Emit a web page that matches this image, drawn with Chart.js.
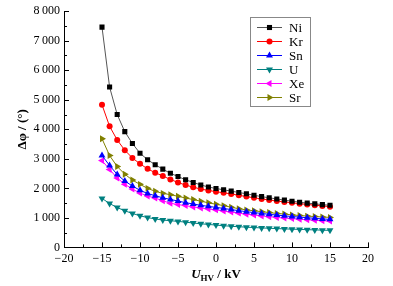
<!DOCTYPE html>
<html>
<head>
<meta charset="utf-8">
<script src="https://cdn.jsdelivr.net/npm/chart.js@4"></script>
<style>
  html, body { margin: 0; padding: 0; background: #fff; }
  #wrap { width: 393px; height: 286px; }
</style>
</head>
<body>
<div id="wrap"><canvas id="myChart" width="393" height="286"></canvas></div>
<script>
// voltage U_HV in kV
const voltages = [-15, -14, -13, -12, -11, -10, -9, -8, -7, -6, -5, -4, -3, -2, -1, 0,
                  1, 2, 3, 4, 5, 6, 7, 8, 9, 10, 11, 12, 13, 14, 15];

// phase shift in degrees
const ni = [7460, 5430, 4500, 3920, 3520, 3190, 2970, 2800, 2650, 2510, 2400, 2290, 2200, 2115, 2045, 1995,
            1950, 1905, 1860, 1815, 1765, 1720, 1680, 1640, 1600, 1565, 1530, 1500, 1475, 1450, 1425];
const kr = [4830, 4100, 3640, 3290, 3030, 2830, 2660, 2530, 2420, 2300, 2200, 2110, 2040, 1975, 1930, 1885,
            1850, 1810, 1765, 1720, 1680, 1640, 1605, 1570, 1540, 1510, 1480, 1455, 1430, 1405, 1380];
const sn = [3110, 2775, 2470, 2245, 2080, 1935, 1825, 1750, 1680, 1625, 1570, 1515, 1470, 1425, 1390, 1355,
            1320, 1280, 1245, 1210, 1180, 1150, 1120, 1095, 1070, 1045, 1025, 1005, 985, 965, 950];
const u  = [1660, 1485, 1350, 1240, 1150, 1070, 1010, 965, 925, 905, 880, 855, 825, 800, 778, 755,
            735, 715, 700, 685, 672, 660, 648, 637, 627, 618, 609, 600, 592, 584, 577];
const xe = [2940, 2640, 2350, 2140, 1975, 1840, 1740, 1670, 1580, 1495, 1450, 1415, 1370, 1335, 1300, 1270,
            1230, 1195, 1160, 1125, 1095, 1065, 1040, 1015, 995, 975, 955, 935, 920, 905, 890];
const sr = [3680, 3110, 2740, 2480, 2280, 2135, 2000, 1900, 1830, 1785, 1730, 1673, 1620, 1565, 1510, 1460,
            1415, 1360, 1310, 1270, 1240, 1210, 1180, 1150, 1130, 1100, 1080, 1060, 1045, 1030, 1015];

const labels = ['Ni', 'Kr', 'Sn', 'U', 'Xe', 'Sr'];
const xTicks = [-20, -15, -10, -5, 0, 5, 10, 15, 20];
const yTicks = [0, 1000, 2000, 3000, 4000, 5000, 6000, 7000, 8000];

const serif = '"Liberation Serif", "DejaVu Serif", serif';

function series(label, data, color, lineColor, style, rot, r) {
  return {
    label: label,
    data: voltages.map((v, i) => ({ x: v, y: data[i] })),
    borderColor: lineColor,
    backgroundColor: color,
    pointBorderColor: color,
    pointBackgroundColor: color,
    borderWidth: 1,
    pointStyle: style,
    pointRotation: rot,
    pointRadius: r,
    pointBorderWidth: 0,
    tension: 0,
    fill: false
  };
}

// inward ticks, minor ticks and axis titles
const axisDecor = {
  id: 'axisDecor',
  afterDraw(chart) {
    const ctx = chart.ctx;
    const xs = chart.scales.x, ys = chart.scales.y;
    const a = chart.chartArea;
    ctx.save();
    ctx.strokeStyle = '#000';
    ctx.lineWidth = 1;
    ctx.beginPath();
    for (let v = -20; v <= 20; v += 2.5) {
      const px = Math.round(xs.getPixelForValue(v)) + 0.5;
      const len = (v % 5 === 0) ? 5 : 3;
      ctx.moveTo(px, a.bottom);
      ctx.lineTo(px, a.bottom - len);
    }
    for (let v = 0; v <= 8000; v += 500) {
      const py = Math.round(ys.getPixelForValue(v)) + 0.5;
      const len = (v % 1000 === 0) ? 5 : 3;
      ctx.moveTo(a.left, py);
      ctx.lineTo(a.left + len, py);
    }
    ctx.stroke();

    // x title: U_HV / kV
    ctx.fillStyle = '#000';
    ctx.textBaseline = 'alphabetic';
    const cx = (a.left + a.right) / 2;
    const by = 278;
    ctx.font = 'italic bold 13px ' + serif;
    const wU = ctx.measureText('U').width;
    ctx.font = 'bold 9px ' + serif;
    const wHV = ctx.measureText('HV').width;
    ctx.font = 'bold 13px ' + serif;
    const wRest = ctx.measureText(' / kV').width;
    let x0 = cx - (wU + wHV + wRest) / 2;
    ctx.textAlign = 'left';
    ctx.font = 'italic bold 13px ' + serif;
    ctx.fillText('U', x0, by);
    ctx.font = 'bold 9px ' + serif;
    ctx.fillText('HV', x0 + wU, by + 3);
    ctx.font = 'bold 13px ' + serif;
    ctx.fillText(' / kV', x0 + wU + wHV, by);

    // y title
    ctx.translate(23, (a.top + a.bottom) / 2);
    ctx.rotate(-Math.PI / 2);
    ctx.textAlign = 'center';
    ctx.textBaseline = 'middle';
    ctx.font = 'bold 13px ' + serif;
    ctx.fillText('\u0394\u03c6 / (\u00b0)', 0, 0);
    ctx.restore();
  }
};

// boxed legend inside the plot
const boxLegend = {
  id: 'boxLegend',
  afterDraw(chart) {
    const ctx = chart.ctx;
    ctx.save();
    ctx.strokeStyle = '#888';
    ctx.lineWidth = 1;
    ctx.strokeRect(250.5, 17.5, 60, 89);
    chart.data.datasets.forEach((ds, i) => {
      const y = 27.5 + i * 14;
      ctx.strokeStyle = ds.borderColor;
      ctx.beginPath();
      ctx.moveTo(257, y);
      ctx.lineTo(282, y);
      ctx.stroke();
      ctx.fillStyle = ds.pointBackgroundColor;
      Chart.helpers.drawPoint(ctx, {
        pointStyle: ds.pointStyle,
        rotation: ds.pointRotation,
        radius: ds.pointRadius,
        borderWidth: 0
      }, 269.5, y);
      ctx.fillStyle = '#000';
      ctx.font = '13px ' + serif;
      ctx.textAlign = 'left';
      ctx.textBaseline = 'middle';
      ctx.fillText(ds.label, 289, y + 1);
    });
    ctx.restore();
  }
};

const ctx = document.getElementById('myChart').getContext('2d');
new Chart(ctx, {
  type: 'line',
  data: {
    datasets: [
      series(labels[0], ni, '#000000', '#555555', 'rect', 0, 3.6),
      series(labels[1], kr, '#ff0000', '#ff0000', 'circle', 0, 3),
      series(labels[2], sn, '#0000ff', '#0000ff', 'triangle', 0, 4),
      series(labels[3], u, '#008080', '#008080', 'triangle', 180, 4),
      series(labels[4], xe, '#ff00ff', '#ff00ff', 'triangle', 270, 4),
      series(labels[5], sr, '#808000', '#808000', 'triangle', 90, 4)
    ]
  },
  options: {
    responsive: false,
    animation: false,
    layout: { padding: { top: 10, right: 25, left: 0, bottom: 0 } },
    plugins: {
      legend: { display: false },
      tooltip: { enabled: false }
    },
    scales: {
      x: {
        type: 'linear',
        min: -20,
        max: 20,
        afterBuildTicks: s => { s.ticks = xTicks.map(v => ({ value: v })); },
        afterFit: s => { s.height = 38.6; },
        grid: { display: false, drawTicks: false },
        border: { display: true, color: '#000', width: 1 },
        ticks: {
          padding: 4,
          color: '#000',
          font: { family: serif, size: 12 },
          maxRotation: 0,
          callback: v => (v < 0 ? '\u2212' + Math.abs(v) : String(v))
        }
      },
      y: {
        min: 0,
        max: 8000,
        afterBuildTicks: s => { s.ticks = yTicks.map(v => ({ value: v })); },
        afterFit: s => { s.width = 64; },
        grid: { display: false, drawTicks: false },
        border: { display: true, color: '#000', width: 1 },
        ticks: {
          padding: 4,
          color: '#000',
          font: { family: serif, size: 12 },
          callback: v => v >= 1000 ? Math.floor(v / 1000) + '\u2009' + String(v % 1000).padStart(3, '0') : String(v)
        }
      }
    }
  },
  plugins: [axisDecor, boxLegend]
});
</script>
</body>
</html>
